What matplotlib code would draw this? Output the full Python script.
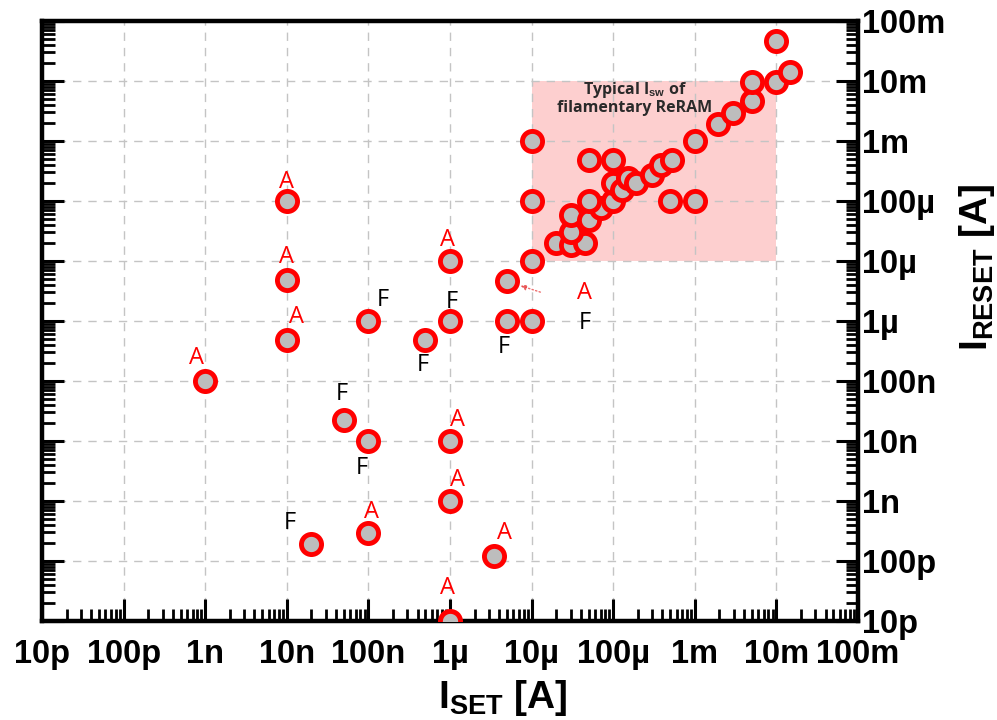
import matplotlib
matplotlib.use('Agg')
import matplotlib.pyplot as plt
import numpy as np
from matplotlib.patches import Rectangle
from matplotlib.ticker import LogLocator, NullFormatter

plt.rcParams['font.family'] = ['Liberation Sans', 'DejaVu Sans']
plt.rcParams['mathtext.fontset'] = 'custom'
plt.rcParams['mathtext.rm'] = 'Liberation Sans'
plt.rcParams['mathtext.bf'] = 'Liberation Sans:bold'

# reported devices: I_SET vs I_RESET [A]
iSet = [1e-9, 1e-8, 1e-8, 1e-8, 1e-7, 5e-7, 1e-6, 1e-6, 5e-6, 5e-6, 1e-5,
        1e-5, 1e-5, 1e-5, 5e-8, 1e-7, 1e-6, 1e-6, 2e-8, 1e-7, 3.5e-6, 1e-6,
        # filamentary cluster
        2e-5, 3e-5, 4.5e-5, 3e-5, 3e-5, 5e-5, 7e-5, 5e-5, 1e-4, 1e-4,
        1.3e-4, 1.5e-4, 1.9e-4, 3e-4, 3.9e-4, 5.2e-4, 5e-4, 1e-3, 5e-5,
        1e-4, 1e-3, 1.9e-3, 2.9e-3, 5e-3, 5e-3, 1e-2, 1.47e-2, 1e-2]
iReset = [1e-7, 1e-4, 4.8e-6, 4.8e-7, 1e-6, 4.9e-7, 1e-6, 1e-5, 4.6e-6, 1e-6,
          1e-6, 1e-5, 1e-4, 1e-3, 2.2e-8, 1e-8, 1e-8, 1e-9, 1.9e-10, 2.9e-10,
          1.2e-10, 1e-11,
          1.97e-5, 1.85e-5, 1.97e-5, 3.1e-5, 5.8e-5, 4.8e-5, 7.6e-5, 1e-4,
          1e-4, 2e-4, 1.5e-4, 2.4e-4, 2e-4, 2.7e-4, 4e-4, 4.8e-4, 1e-4, 1e-4,
          4.8e-4, 4.8e-4, 1e-3, 1.92e-3, 2.9e-3, 4.6e-3, 9.6e-3, 9.6e-3,
          1.41e-2, 4.6e-2]

# A / F annotations
labelText = ['A', 'A', 'A', 'A', 'F', 'F', 'A', 'F', 'F', 'A', 'F', 'F', 'A',
             'F', 'A', 'F', 'A', 'A', 'A']
labelX = [7.9e-10, 1e-8, 1e-8, 1.33e-8, 1.5e-7, 1.06e-6, 9.4e-7, 4.7e-7,
          4.6e-6, 4.5e-5, 4.5e-5, 4.7e-8, 1.25e-6, 8.4e-8, 1.25e-6, 1.1e-8,
          1.1e-7, 4.7e-6, 9.4e-7]
labelY = [2.4e-7, 2.07e-4, 1.17e-5, 1.17e-6, 2.24e-6, 2.07e-6, 2.24e-5,
          1.85e-7, 3.7e-7, 2.9e-6, 9.3e-7, 6.1e-8, 2.24e-8, 3.5e-9, 2.24e-9,
          4.3e-10, 6.6e-10, 2.9e-10, 3.5e-11]

boxX = [1e-5, 1e-2]
boxY = [1e-5, 1e-2]

decades = [1e-11, 1e-10, 1e-9, 1e-8, 1e-7, 1e-6, 1e-5, 1e-4, 1e-3, 1e-2, 1e-1]
tickLabels = ['10p', '100p', '1n', '10n', '100n', '1\u00b5', '10\u00b5',
              '100\u00b5', '1m', '10m', '100m']

fig = plt.figure(figsize=(9.97, 7.2), dpi=100)
ax = fig.add_axes([42/997, 1-621/720, 816/997, 600/720])
ax.set_xscale('log')
ax.set_yscale('log')
ax.set_xlim(decades[0], decades[-1])
ax.set_ylim(decades[0], decades[-1])

ax.add_patch(Rectangle((boxX[0], boxY[0]), boxX[1]-boxX[0], boxY[1]-boxY[0],
                       facecolor='#fdcfcf', edgecolor='none', zorder=1))
ax.text(np.sqrt(boxX[0]*boxX[1])*0.58, 5.2e-3,
        'Typical I$_{\\mathbf{sw}}$ of\nfilamentary ReRAM',
        ha='center', va='center', fontsize=11.5, fontweight='bold',
        color='#2a2a2a', linespacing=1.0, family='Open Sans')

ax.plot(iSet, iReset, 'o', color='#bdbdbd', markersize=14.5,
        markeredgecolor='#ff0000', markeredgewidth=3.5, linestyle='none',
        zorder=3)

for txt, lx, ly in zip(labelText, labelX, labelY):
    ax.text(lx, ly, txt, ha='center', va='center', fontsize=17,
            family='Open Sans',
            color='#ff0000' if txt == 'A' else 'black', zorder=4)

ax.annotate('', xy=(6.8e-6, 4e-6), xytext=(1.38e-5, 2.93e-6),
            arrowprops=dict(arrowstyle='-|>', color='#e84a4a', lw=1,
                            linestyle=':', alpha=0.8, mutation_scale=8))

ax.set_xticks(decades)
ax.set_xticklabels(tickLabels)
ax.set_yticks(decades)
ax.set_yticklabels(tickLabels)
ax.xaxis.set_minor_locator(LogLocator(base=10, subs=np.arange(2, 10), numticks=20))
ax.yaxis.set_minor_locator(LogLocator(base=10, subs=np.arange(2, 10), numticks=20))
ax.xaxis.set_minor_formatter(NullFormatter())
ax.yaxis.set_minor_formatter(NullFormatter())

ax.tick_params(axis='x', which='both', direction='in', top=False, bottom=True,
               labelsize=23.5, pad=13)
ax.tick_params(axis='y', which='both', direction='in', left=True, right=True,
               labelleft=False, labelright=True, labelsize=23.5, pad=3)
ax.tick_params(which='major', length=16, width=2.2)
ax.tick_params(which='minor', length=9, width=2)
for lab in ax.get_xticklabels() + ax.get_yticklabels():
    lab.set_fontweight('bold')

for sp in ax.spines.values():
    sp.set_linewidth(3.2)

ax.grid(True, which='major', linestyle=(0, (6, 5)), color='#c4c4c4', lw=1)

ax.text(0.565, -0.145, 'I$_{\\mathbf{SET}}$ [A]', transform=ax.transAxes,
        ha='center', va='baseline', fontsize=28, fontweight='bold')
ax.text(1.158, 0.59, 'I$_{\\mathbf{RESET}}$ [A]', transform=ax.transAxes,
        ha='center', va='baseline', rotation=90, rotation_mode='anchor',
        fontsize=28, fontweight='bold')

fig.savefig('out.png', dpi=100)
